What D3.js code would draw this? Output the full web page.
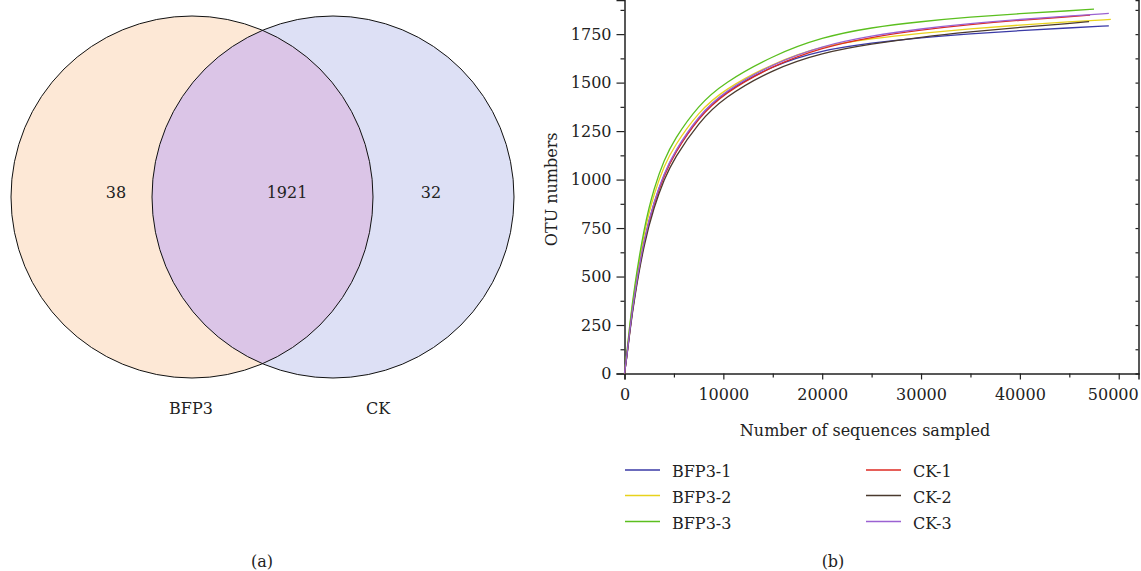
<!DOCTYPE html>
<html><head><meta charset="utf-8">
<script src="https://cdn.jsdelivr.net/npm/d3@7"></script>
<style>
html,body{margin:0;padding:0;background:#fff;}
text{font-family:"DejaVu Serif",serif;fill:#222;}
</style></head>
<body><svg id="c" width="1141" height="571"></svg>
<script>
// ---- Venn data ----
const vennSets = ["BFP3", "CK"];
const vennCounts = [38, 1921, 32]; // only BFP3, shared, only CK
const vennColors = ["#fde8d6", "#dde0f5", "#dbc5e7"];

// ---- Rarefaction data ----
const seriesNames = ["BFP3-1", "BFP3-2", "BFP3-3", "CK-1", "CK-2", "CK-3"];
const seriesColors = ["#3a3aa6", "#e8d21c", "#5bbf1f", "#de2a22", "#4a3a2e", "#9b62d2"];
const xGrid = [0, 250, 500, 1000, 2000, 3000, 4000, 5000, 7500, 10000, 15000, 20000, 25000, 30000, 35000, 40000, 45000];
const endX = [49000, 49200, 47500, 47100, 47000, 49000];
const bfp3_1 = [0, 95, 210, 410, 700, 888, 1025, 1135, 1325, 1448, 1590, 1668, 1705, 1732, 1752, 1768, 1782, 1793];
const bfp3_2 = [0, 105, 230, 435, 735, 930, 1070, 1170, 1350, 1462, 1600, 1690, 1728, 1755, 1778, 1797, 1814, 1826];
const bfp3_3 = [0, 110, 240, 450, 760, 960, 1100, 1205, 1385, 1497, 1640, 1735, 1785, 1815, 1838, 1856, 1870, 1879];
const ck_1   = [0, 93, 205, 400, 690, 880, 1020, 1130, 1320, 1443, 1588, 1682, 1735, 1772, 1800, 1822, 1840, 1848];
const ck_2   = [0, 90, 200, 390, 675, 860, 1000, 1108, 1295, 1422, 1570, 1655, 1700, 1735, 1762, 1785, 1805, 1815];
const ck_3   = [0, 95, 210, 410, 700, 890, 1030, 1140, 1330, 1452, 1598, 1690, 1742, 1778, 1805, 1826, 1844, 1857];
const seriesValues = [bfp3_1, bfp3_2, bfp3_3, ck_1, ck_2, ck_3];
const yTicks = [0, 250, 500, 750, 1000, 1250, 1500, 1750];
const xTicks = [0, 10000, 20000, 30000, 40000, 50000];

const svg = d3.select("#c");
const FS = 16;

// ===== Panel (a): Venn =====
const vx = d3.scaleLinear().domain([0, 1]).range([192, 333]);
const R = 181, cy = 197;
const defs = svg.append("defs");
defs.append("clipPath").attr("id", "clipL").append("circle").attr("cx", vx(0)).attr("cy", cy).attr("r", R);
const va = svg.append("g");
va.append("circle").attr("cx", vx(0)).attr("cy", cy).attr("r", R).attr("fill", vennColors[0]);
va.append("circle").attr("cx", vx(1)).attr("cy", cy).attr("r", R).attr("fill", vennColors[1]);
va.append("circle").attr("cx", vx(1)).attr("cy", cy).attr("r", R).attr("fill", vennColors[2]).attr("clip-path", "url(#clipL)");
[0, 1].forEach(i => va.append("circle").attr("cx", vx(i)).attr("cy", cy).attr("r", R)
  .attr("fill", "none").attr("stroke", "#111").attr("stroke-width", 1));
const countX = [116, 287, 431];
vennCounts.forEach((c, i) => va.append("text").attr("x", countX[i]).attr("y", 192).attr("dy", "0.35em")
  .attr("text-anchor", "middle").attr("font-size", FS).text(c));
const setLabelX = [191, 378];
vennSets.forEach((s, i) => va.append("text").attr("x", setLabelX[i]).attr("y", 408).attr("dy", "0.35em")
  .attr("text-anchor", "middle").attr("font-size", FS).text(s));
svg.append("text").attr("x", 262).attr("y", 561).attr("dy", "0.35em").attr("text-anchor", "middle")
  .attr("font-size", FS).text("(a)");

// ===== Panel (b): Rarefaction =====
const x = d3.scaleLinear().domain([0, 52000]).range([624.5, 1138.5]);
const y = d3.scaleLinear().domain([0, 1926]).range([373.5, 0]);
const g = svg.append("g");

// axes
const yAxis = d3.axisLeft(y).tickValues(yTicks).tickSize(8).tickPadding(5).tickFormat(d3.format("d"));
const yMinor = d3.axisLeft(y).tickValues(d3.range(125, 1926, 250)).tickSize(4).tickFormat("");
const xAxis = d3.axisBottom(x).tickValues(xTicks).tickSize(6).tickPadding(9).tickFormat(d3.format("d"));
const xMinor = d3.axisBottom(x).tickValues(d3.range(5000, 52000, 10000)).tickSize(4).tickFormat("");
const rAxis = d3.axisLeft(y).tickValues(d3.range(125, 1926, 125)).tickSize(3).tickFormat("");

function style(sel) {
  sel.select(".domain").attr("stroke", "#222").attr("stroke-width", 1.5);
  sel.selectAll(".tick line").attr("stroke", "#222").attr("stroke-width", 1.2);
  sel.selectAll("text").attr("font-size", FS).attr("font-family", "DejaVu Serif, serif").attr("fill", "#222");
}
g.append("g").attr("transform", `translate(${x(0)},0)`).call(yMinor).call(style).select(".domain").remove();
g.append("g").attr("transform", `translate(${x(0)},0)`).call(yAxis).call(style);
g.append("g").attr("transform", `translate(0,${y(0)})`).call(xMinor).call(style).select(".domain").remove();
const xg = g.append("g").attr("transform", `translate(0,${y(0)})`).call(xAxis).call(style);
// keep the last tick label inside the page, as in the reference
xg.selectAll(".tick text").filter(d => d === 50000).attr("x", -6);
g.append("g").attr("transform", `translate(${x(52000)},0)`).call(rAxis).call(style);

// lines
const line = d3.line().x(d => x(d[0])).y(d => y(d[1])).curve(d3.curveBasis);
seriesValues.forEach((vals, i) => {
  const xs = xGrid.concat([endX[i]]);
  const pts = vals.map((v, j) => [xs[j], v]);
  g.append("path").datum(pts).attr("d", line).attr("fill", "none")
    .attr("stroke", seriesColors[i]).attr("stroke-width", 1.3);
});

// axis titles
g.append("text").attr("transform", `translate(551,${y(950)}) rotate(-90)`).attr("dy", "0.35em")
  .attr("text-anchor", "middle").attr("font-size", FS).text("OTU numbers");
g.append("text").attr("x", 865).attr("y", 430).attr("dy", "0.35em").attr("text-anchor", "middle")
  .attr("font-size", FS).text("Number of sequences sampled");

// legend
const legX = [625, 866], legY = [470, 495.5, 521.5];
seriesNames.forEach((n, i) => {
  const col = Math.floor(i / 3), row = i % 3;
  const lg = g.append("g").attr("transform", `translate(${legX[col]},${legY[row]})`);
  lg.append("line").attr("x1", 0).attr("x2", 35).attr("y1", 0).attr("y2", 0)
    .attr("stroke", seriesColors[i]).attr("stroke-width", 1.4);
  lg.append("text").attr("x", 47).attr("y", 1.5).attr("dy", "0.35em").attr("font-size", FS).text(n);
});
svg.append("text").attr("x", 833).attr("y", 561).attr("dy", "0.35em").attr("text-anchor", "middle")
  .attr("font-size", FS).text("(b)");
</script></body></html>
